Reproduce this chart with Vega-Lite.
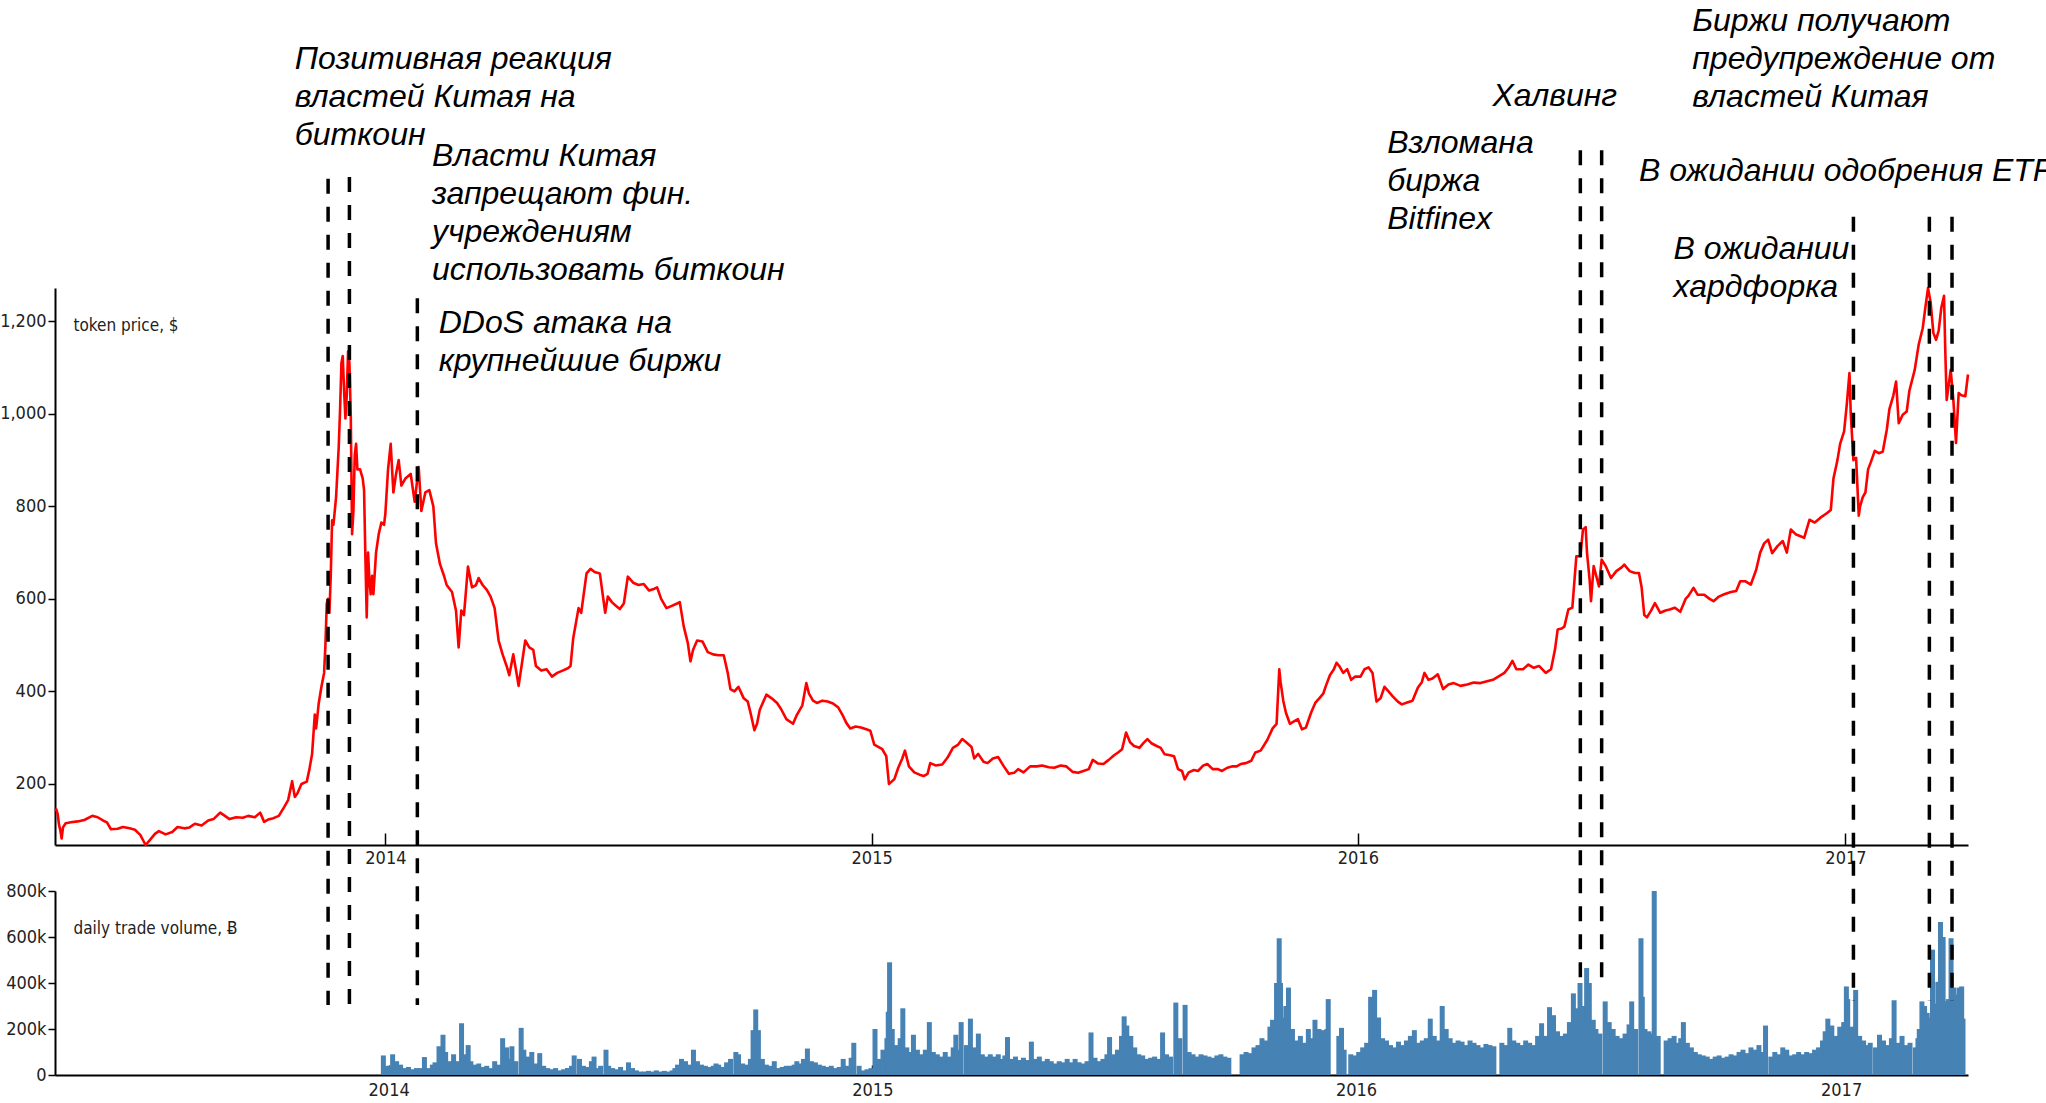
{
  "$schema": "https://vega.github.io/schema/vega-lite/v6.json",
  "autosize": "none",
  "width": 1913,
  "height": 1103,
  "padding": {"left": 55, "top": 0, "right": 78, "bottom": 0},
  "background": "white",
  "config": {
    "view": {"stroke": null},
    "axis": {
      "labelFont": "Liberation Sans Narrow, DejaVu Sans Condensed, Liberation Sans, sans-serif",
      "labelColor": "#222222",
      "labelFontSize": 18,
      "titleFont": "Liberation Sans Narrow, DejaVu Sans Condensed, Liberation Sans, sans-serif",
      "titleColor": "#222222",
      "titleFontSize": 17,
      "titleFontWeight": "normal",
      "domainColor": "black",
      "domainWidth": 2,
      "tickColor": "black",
      "tickWidth": 1.5,
      "grid": false
    }
  },
  "datasets": {
    "price": [
      {"d":"2013-04-28","p":142},{"d":"2013-04-29","p":145},{"d":"2013-04-30","p":135},{"d":"2013-05-01","p":112},{"d":"2013-05-02","p":100},{"d":"2013-05-03","p":82},{"d":"2013-05-04","p":106},{"d":"2013-05-06","p":115},{"d":"2013-05-10","p":117},{"d":"2013-05-15","p":119},{"d":"2013-05-20","p":122},{"d":"2013-05-26","p":131},{"d":"2013-05-30","p":128},
      {"d":"2013-06-03","p":121},{"d":"2013-06-06","p":117},{"d":"2013-06-09","p":102},{"d":"2013-06-14","p":103},{"d":"2013-06-18","p":107},{"d":"2013-06-23","p":104},{"d":"2013-06-27","p":101},
      {"d":"2013-07-01","p":90},{"d":"2013-07-05","p":68},{"d":"2013-07-08","p":78},{"d":"2013-07-12","p":92},{"d":"2013-07-15","p":98},{"d":"2013-07-20","p":91},{"d":"2013-07-25","p":96},{"d":"2013-07-29","p":107},
      {"d":"2013-08-03","p":104},{"d":"2013-08-07","p":106},{"d":"2013-08-11","p":114},{"d":"2013-08-16","p":110},{"d":"2013-08-21","p":121},{"d":"2013-08-25","p":124},{"d":"2013-08-30","p":138},
      {"d":"2013-09-02","p":132},{"d":"2013-09-06","p":124},{"d":"2013-09-11","p":128},{"d":"2013-09-16","p":127},{"d":"2013-09-20","p":131},{"d":"2013-09-25","p":128},{"d":"2013-09-29","p":138},
      {"d":"2013-10-02","p":118},{"d":"2013-10-05","p":123},{"d":"2013-10-09","p":126},{"d":"2013-10-13","p":131},{"d":"2013-10-17","p":150},{"d":"2013-10-20","p":165},{"d":"2013-10-23","p":206},{"d":"2013-10-25","p":172},{"d":"2013-10-27","p":180},{"d":"2013-10-30","p":200},
      {"d":"2013-11-03","p":205},{"d":"2013-11-05","p":232},{"d":"2013-11-07","p":265},{"d":"2013-11-09","p":350},{"d":"2013-11-10","p":320},{"d":"2013-11-12","p":375},{"d":"2013-11-14","p":410},{"d":"2013-11-16","p":440},{"d":"2013-11-17","p":500},{"d":"2013-11-18","p":590},{"d":"2013-11-19","p":600},{"d":"2013-11-20","p":570},{"d":"2013-11-21","p":650},{"d":"2013-11-22","p":770},{"d":"2013-11-23","p":760},{"d":"2013-11-25","p":820},{"d":"2013-11-27","p":930},{"d":"2013-11-28","p":1010},{"d":"2013-11-29","p":1110},{"d":"2013-11-30","p":1125},
      {"d":"2013-12-01","p":1050},{"d":"2013-12-02","p":990},{"d":"2013-12-03","p":1040},{"d":"2013-12-04","p":1135},{"d":"2013-12-05","p":1110},{"d":"2013-12-06","p":1000},{"d":"2013-12-07","p":740},{"d":"2013-12-08","p":790},{"d":"2013-12-09","p":910},{"d":"2013-12-10","p":935},{"d":"2013-12-11","p":880},{"d":"2013-12-13","p":880},{"d":"2013-12-15","p":860},{"d":"2013-12-16","p":835},{"d":"2013-12-17","p":690},{"d":"2013-12-18","p":560},{"d":"2013-12-19","p":700},{"d":"2013-12-20","p":640},{"d":"2013-12-21","p":610},{"d":"2013-12-22","p":650},{"d":"2013-12-23","p":610},{"d":"2013-12-25","p":700},{"d":"2013-12-27","p":740},{"d":"2013-12-29","p":765},{"d":"2013-12-31","p":760},
      {"d":"2014-01-01","p":785},{"d":"2014-01-03","p":880},{"d":"2014-01-05","p":935},{"d":"2014-01-07","p":830},{"d":"2014-01-09","p":870},{"d":"2014-01-11","p":900},{"d":"2014-01-13","p":845},{"d":"2014-01-16","p":860},{"d":"2014-01-20","p":870},{"d":"2014-01-23","p":810},{"d":"2014-01-26","p":885},{"d":"2014-01-28","p":790},{"d":"2014-01-31","p":830},
      {"d":"2014-02-03","p":835},{"d":"2014-02-06","p":800},{"d":"2014-02-08","p":720},{"d":"2014-02-11","p":675},{"d":"2014-02-14","p":650},{"d":"2014-02-16","p":630},{"d":"2014-02-20","p":615},{"d":"2014-02-23","p":575},{"d":"2014-02-25","p":495},{"d":"2014-02-27","p":575},
      {"d":"2014-03-01","p":565},{"d":"2014-03-04","p":670},{"d":"2014-03-07","p":625},{"d":"2014-03-10","p":630},{"d":"2014-03-12","p":645},{"d":"2014-03-15","p":630},{"d":"2014-03-18","p":620},{"d":"2014-03-21","p":605},{"d":"2014-03-24","p":580},{"d":"2014-03-27","p":510},{"d":"2014-03-30","p":480},
      {"d":"2014-04-02","p":455},{"d":"2014-04-04","p":435},{"d":"2014-04-07","p":480},{"d":"2014-04-10","p":430},{"d":"2014-04-11","p":412},{"d":"2014-04-14","p":470},{"d":"2014-04-16","p":510},{"d":"2014-04-19","p":495},{"d":"2014-04-22","p":490},{"d":"2014-04-24","p":455},{"d":"2014-04-28","p":445},
      {"d":"2014-05-02","p":448},{"d":"2014-05-06","p":432},{"d":"2014-05-10","p":440},{"d":"2014-05-14","p":445},{"d":"2014-05-18","p":450},{"d":"2014-05-20","p":455},{"d":"2014-05-22","p":515},{"d":"2014-05-26","p":580},{"d":"2014-05-28","p":570},
      {"d":"2014-06-01","p":655},{"d":"2014-06-04","p":665},{"d":"2014-06-07","p":658},{"d":"2014-06-11","p":655},{"d":"2014-06-15","p":570},{"d":"2014-06-17","p":605},{"d":"2014-06-20","p":593},{"d":"2014-06-23","p":585},{"d":"2014-06-26","p":578},{"d":"2014-06-29","p":590},
      {"d":"2014-07-02","p":648},{"d":"2014-07-06","p":635},{"d":"2014-07-10","p":630},{"d":"2014-07-14","p":632},{"d":"2014-07-18","p":618},{"d":"2014-07-22","p":622},{"d":"2014-07-24","p":625},{"d":"2014-07-27","p":600},{"d":"2014-07-31","p":580},
      {"d":"2014-08-04","p":585},{"d":"2014-08-08","p":590},{"d":"2014-08-10","p":593},{"d":"2014-08-13","p":540},{"d":"2014-08-16","p":505},{"d":"2014-08-18","p":465},{"d":"2014-08-20","p":490},{"d":"2014-08-23","p":510},{"d":"2014-08-27","p":508},{"d":"2014-08-31","p":485},
      {"d":"2014-09-04","p":480},{"d":"2014-09-08","p":478},{"d":"2014-09-12","p":478},{"d":"2014-09-15","p":440},{"d":"2014-09-17","p":405},{"d":"2014-09-20","p":400},{"d":"2014-09-23","p":410},{"d":"2014-09-27","p":385},{"d":"2014-09-30","p":378},
      {"d":"2014-10-02","p":355},{"d":"2014-10-05","p":316},{"d":"2014-10-07","p":330},{"d":"2014-10-09","p":360},{"d":"2014-10-14","p":393},{"d":"2014-10-18","p":385},{"d":"2014-10-22","p":375},{"d":"2014-10-25","p":362},{"d":"2014-10-29","p":340},
      {"d":"2014-11-03","p":330},{"d":"2014-11-06","p":350},{"d":"2014-11-10","p":370},{"d":"2014-11-13","p":418},{"d":"2014-11-15","p":395},{"d":"2014-11-18","p":380},{"d":"2014-11-21","p":375},{"d":"2014-11-25","p":380},{"d":"2014-11-29","p":378},
      {"d":"2014-12-03","p":374},{"d":"2014-12-07","p":365},{"d":"2014-12-10","p":350},{"d":"2014-12-13","p":332},{"d":"2014-12-16","p":320},{"d":"2014-12-20","p":324},{"d":"2014-12-24","p":322},{"d":"2014-12-28","p":318},{"d":"2014-12-31","p":315},
      {"d":"2015-01-03","p":285},{"d":"2015-01-06","p":280},{"d":"2015-01-09","p":275},{"d":"2015-01-12","p":260},{"d":"2015-01-14","p":200},{"d":"2015-01-16","p":205},{"d":"2015-01-18","p":210},{"d":"2015-01-21","p":235},{"d":"2015-01-24","p":255},{"d":"2015-01-26","p":272},{"d":"2015-01-29","p":238},
      {"d":"2015-02-02","p":225},{"d":"2015-02-06","p":220},{"d":"2015-02-09","p":217},{"d":"2015-02-12","p":222},{"d":"2015-02-14","p":245},{"d":"2015-02-18","p":240},{"d":"2015-02-23","p":242},{"d":"2015-02-27","p":257},
      {"d":"2015-03-03","p":278},{"d":"2015-03-07","p":285},{"d":"2015-03-10","p":297},{"d":"2015-03-13","p":290},{"d":"2015-03-17","p":280},{"d":"2015-03-19","p":255},{"d":"2015-03-22","p":265},{"d":"2015-03-26","p":248},{"d":"2015-03-29","p":245},
      {"d":"2015-04-02","p":255},{"d":"2015-04-06","p":258},{"d":"2015-04-10","p":239},{"d":"2015-04-14","p":222},{"d":"2015-04-18","p":224},{"d":"2015-04-21","p":232},{"d":"2015-04-25","p":225},{"d":"2015-04-30","p":238},
      {"d":"2015-05-05","p":238},{"d":"2015-05-09","p":240},{"d":"2015-05-14","p":236},{"d":"2015-05-18","p":235},{"d":"2015-05-23","p":240},{"d":"2015-05-27","p":238},
      {"d":"2015-06-01","p":226},{"d":"2015-06-05","p":224},{"d":"2015-06-09","p":228},{"d":"2015-06-13","p":232},{"d":"2015-06-16","p":252},{"d":"2015-06-20","p":244},{"d":"2015-06-24","p":243},{"d":"2015-06-28","p":252},
      {"d":"2015-07-02","p":262},{"d":"2015-07-05","p":268},{"d":"2015-07-08","p":275},{"d":"2015-07-11","p":311},{"d":"2015-07-14","p":290},{"d":"2015-07-17","p":282},{"d":"2015-07-21","p":278},{"d":"2015-07-24","p":288},{"d":"2015-07-27","p":297},{"d":"2015-07-30","p":288},
      {"d":"2015-08-03","p":282},{"d":"2015-08-06","p":278},{"d":"2015-08-09","p":264},{"d":"2015-08-13","p":262},{"d":"2015-08-16","p":260},{"d":"2015-08-19","p":232},{"d":"2015-08-22","p":228},{"d":"2015-08-24","p":210},{"d":"2015-08-27","p":225},{"d":"2015-08-31","p":230},
      {"d":"2015-09-03","p":228},{"d":"2015-09-07","p":240},{"d":"2015-09-10","p":243},{"d":"2015-09-14","p":232},{"d":"2015-09-18","p":232},{"d":"2015-09-21","p":228},{"d":"2015-09-25","p":235},{"d":"2015-09-29","p":238},
      {"d":"2015-10-02","p":238},{"d":"2015-10-05","p":243},{"d":"2015-10-09","p":245},{"d":"2015-10-13","p":250},{"d":"2015-10-16","p":268},{"d":"2015-10-20","p":272},{"d":"2015-10-25","p":295},{"d":"2015-10-29","p":320},
      {"d":"2015-11-01","p":330},{"d":"2015-11-03","p":448},{"d":"2015-11-04","p":420},{"d":"2015-11-06","p":380},{"d":"2015-11-08","p":354},{"d":"2015-11-11","p":330},{"d":"2015-11-14","p":335},{"d":"2015-11-17","p":340},{"d":"2015-11-20","p":318},{"d":"2015-11-23","p":322},{"d":"2015-11-27","p":355},{"d":"2015-11-30","p":375},
      {"d":"2015-12-03","p":385},{"d":"2015-12-06","p":395},{"d":"2015-12-08","p":412},{"d":"2015-12-11","p":435},{"d":"2015-12-14","p":448},{"d":"2015-12-16","p":462},{"d":"2015-12-18","p":455},{"d":"2015-12-21","p":440},{"d":"2015-12-24","p":448},{"d":"2015-12-27","p":425},{"d":"2015-12-30","p":432},
      {"d":"2016-01-03","p":432},{"d":"2016-01-06","p":448},{"d":"2016-01-09","p":452},{"d":"2016-01-12","p":440},{"d":"2016-01-15","p":378},{"d":"2016-01-18","p":385},{"d":"2016-01-21","p":410},{"d":"2016-01-24","p":400},{"d":"2016-01-27","p":390},{"d":"2016-01-31","p":378},
      {"d":"2016-02-03","p":372},{"d":"2016-02-07","p":376},{"d":"2016-02-11","p":380},{"d":"2016-02-15","p":408},{"d":"2016-02-18","p":420},{"d":"2016-02-20","p":440},{"d":"2016-02-23","p":425},{"d":"2016-02-26","p":428},
      {"d":"2016-03-01","p":437},{"d":"2016-03-05","p":405},{"d":"2016-03-09","p":415},{"d":"2016-03-13","p":418},{"d":"2016-03-18","p":412},{"d":"2016-03-23","p":415},{"d":"2016-03-28","p":419},
      {"d":"2016-04-02","p":418},{"d":"2016-04-07","p":422},{"d":"2016-04-12","p":426},{"d":"2016-04-16","p":433},{"d":"2016-04-20","p":440},{"d":"2016-04-23","p":451},{"d":"2016-04-26","p":466},{"d":"2016-04-29","p":448},
      {"d":"2016-05-04","p":448},{"d":"2016-05-08","p":458},{"d":"2016-05-12","p":451},{"d":"2016-05-16","p":455},{"d":"2016-05-21","p":440},{"d":"2016-05-25","p":448},{"d":"2016-05-28","p":491},{"d":"2016-05-30","p":534},
      {"d":"2016-06-02","p":536},{"d":"2016-06-04","p":540},{"d":"2016-06-07","p":577},{"d":"2016-06-10","p":581},{"d":"2016-06-13","p":692},{"d":"2016-06-16","p":692},{"d":"2016-06-18","p":750},{"d":"2016-06-20","p":755},{"d":"2016-06-21","p":700},{"d":"2016-06-23","p":640},{"d":"2016-06-24","p":595},{"d":"2016-06-26","p":671},{"d":"2016-06-28","p":649},{"d":"2016-06-30","p":627},
      {"d":"2016-07-02","p":685},{"d":"2016-07-05","p":671},{"d":"2016-07-09","p":645},{"d":"2016-07-13","p":660},{"d":"2016-07-17","p":668},{"d":"2016-07-19","p":674},{"d":"2016-07-23","p":660},{"d":"2016-07-27","p":656},{"d":"2016-07-30","p":656},
      {"d":"2016-08-01","p":625},{"d":"2016-08-03","p":565},{"d":"2016-08-05","p":560},{"d":"2016-08-08","p":574},{"d":"2016-08-11","p":591},{"d":"2016-08-15","p":570},{"d":"2016-08-19","p":575},{"d":"2016-08-22","p":577},{"d":"2016-08-26","p":581},{"d":"2016-08-30","p":572},
      {"d":"2016-09-03","p":600},{"d":"2016-09-05","p":606},{"d":"2016-09-09","p":624},{"d":"2016-09-12","p":609},{"d":"2016-09-17","p":609},{"d":"2016-09-21","p":600},{"d":"2016-09-24","p":595},{"d":"2016-09-28","p":605},
      {"d":"2016-10-02","p":610},{"d":"2016-10-07","p":615},{"d":"2016-10-11","p":617},{"d":"2016-10-14","p":638},{"d":"2016-10-18","p":638},{"d":"2016-10-22","p":631},{"d":"2016-10-26","p":663},{"d":"2016-10-29","p":700},
      {"d":"2016-11-01","p":720},{"d":"2016-11-04","p":728},{"d":"2016-11-07","p":699},{"d":"2016-11-11","p":714},{"d":"2016-11-15","p":725},{"d":"2016-11-18","p":700},{"d":"2016-11-21","p":750},{"d":"2016-11-25","p":739},
      {"d":"2016-12-01","p":732},{"d":"2016-12-05","p":771},{"d":"2016-12-09","p":765},{"d":"2016-12-13","p":775},{"d":"2016-12-18","p":785},{"d":"2016-12-21","p":792},{"d":"2016-12-23","p":860},{"d":"2016-12-26","p":900},{"d":"2016-12-28","p":935},{"d":"2016-12-31","p":962},
      {"d":"2017-01-02","p":1020},{"d":"2017-01-04","p":1088},{"d":"2017-01-05","p":1000},{"d":"2017-01-07","p":900},{"d":"2017-01-09","p":905},{"d":"2017-01-11","p":780},{"d":"2017-01-12","p":800},{"d":"2017-01-14","p":820},{"d":"2017-01-16","p":830},{"d":"2017-01-18","p":880},{"d":"2017-01-20","p":895},{"d":"2017-01-23","p":920},{"d":"2017-01-26","p":915},{"d":"2017-01-29","p":918},
      {"d":"2017-02-01","p":965},{"d":"2017-02-03","p":1010},{"d":"2017-02-06","p":1040},{"d":"2017-02-08","p":1070},{"d":"2017-02-10","p":980},{"d":"2017-02-13","p":998},{"d":"2017-02-16","p":1005},{"d":"2017-02-18","p":1050},{"d":"2017-02-22","p":1095},{"d":"2017-02-25","p":1150},{"d":"2017-02-28","p":1185},
      {"d":"2017-03-02","p":1230},{"d":"2017-03-04","p":1272},{"d":"2017-03-06","p":1240},{"d":"2017-03-08","p":1175},{"d":"2017-03-10","p":1160},{"d":"2017-03-12","p":1180},{"d":"2017-03-14","p":1230},{"d":"2017-03-16","p":1255},{"d":"2017-03-17","p":1130},{"d":"2017-03-18","p":1030},{"d":"2017-03-21","p":1095},{"d":"2017-03-23","p":1030},{"d":"2017-03-25","p":937},{"d":"2017-03-27","p":1045},{"d":"2017-03-29","p":1040},
      {"d":"2017-04-01","p":1038},{"d":"2017-04-03","p":1085}
    ],
    "volume": [
      {"d":"2013-12-28","v":85},{"d":"2013-12-31","v":40},
      {"d":"2014-01-01","v":35},{"d":"2014-01-04","v":90},{"d":"2014-01-07","v":60},{"d":"2014-01-10","v":45},{"d":"2014-01-13","v":30},{"d":"2014-01-16","v":35},{"d":"2014-01-19","v":25},{"d":"2014-01-22","v":30},{"d":"2014-01-25","v":30},{"d":"2014-01-28","v":78},{"d":"2014-01-31","v":30},
      {"d":"2014-02-03","v":45},{"d":"2014-02-05","v":55},{"d":"2014-02-08","v":125},{"d":"2014-02-11","v":175},{"d":"2014-02-13","v":100},{"d":"2014-02-16","v":60},{"d":"2014-02-19","v":90},{"d":"2014-02-22","v":60},{"d":"2014-02-25","v":225},{"d":"2014-02-28","v":90},
      {"d":"2014-03-02","v":130},{"d":"2014-03-04","v":60},{"d":"2014-03-07","v":45},{"d":"2014-03-10","v":50},{"d":"2014-03-13","v":35},{"d":"2014-03-16","v":40},{"d":"2014-03-19","v":30},{"d":"2014-03-22","v":60},{"d":"2014-03-25","v":45},{"d":"2014-03-28","v":160},{"d":"2014-03-31","v":120},
      {"d":"2014-04-02","v":70},{"d":"2014-04-04","v":125},{"d":"2014-04-07","v":60},{"d":"2014-04-11","v":205},{"d":"2014-04-13","v":110},{"d":"2014-04-16","v":80},{"d":"2014-04-19","v":100},{"d":"2014-04-22","v":50},{"d":"2014-04-25","v":95},{"d":"2014-04-28","v":40},
      {"d":"2014-05-01","v":30},{"d":"2014-05-04","v":25},{"d":"2014-05-07","v":30},{"d":"2014-05-10","v":20},{"d":"2014-05-13","v":25},{"d":"2014-05-16","v":30},{"d":"2014-05-19","v":40},{"d":"2014-05-21","v":85},{"d":"2014-05-25","v":70},{"d":"2014-05-28","v":40},{"d":"2014-05-31","v":35},
      {"d":"2014-06-03","v":60},{"d":"2014-06-05","v":80},{"d":"2014-06-07","v":30},{"d":"2014-06-10","v":40},{"d":"2014-06-14","v":110},{"d":"2014-06-16","v":40},{"d":"2014-06-19","v":30},{"d":"2014-06-22","v":25},{"d":"2014-06-25","v":35},{"d":"2014-06-28","v":20},
      {"d":"2014-07-01","v":55},{"d":"2014-07-04","v":30},{"d":"2014-07-07","v":20},{"d":"2014-07-10","v":15},{"d":"2014-07-13","v":15},{"d":"2014-07-16","v":18},{"d":"2014-07-19","v":15},{"d":"2014-07-22","v":20},{"d":"2014-07-25","v":15},{"d":"2014-07-28","v":18},{"d":"2014-07-31","v":15},
      {"d":"2014-08-03","v":20},{"d":"2014-08-05","v":30},{"d":"2014-08-07","v":45},{"d":"2014-08-10","v":70},{"d":"2014-08-13","v":60},{"d":"2014-08-16","v":45},{"d":"2014-08-19","v":110},{"d":"2014-08-22","v":60},{"d":"2014-08-25","v":45},{"d":"2014-08-28","v":40},{"d":"2014-08-31","v":35},
      {"d":"2014-09-03","v":40},{"d":"2014-09-05","v":50},{"d":"2014-09-07","v":45},{"d":"2014-09-10","v":35},{"d":"2014-09-13","v":55},{"d":"2014-09-16","v":70},{"d":"2014-09-20","v":100},{"d":"2014-09-22","v":90},{"d":"2014-09-25","v":50},{"d":"2014-09-28","v":45},
      {"d":"2014-10-01","v":70},{"d":"2014-10-03","v":195},{"d":"2014-10-05","v":285},{"d":"2014-10-07","v":195},{"d":"2014-10-10","v":70},{"d":"2014-10-13","v":45},{"d":"2014-10-16","v":40},{"d":"2014-10-19","v":60},{"d":"2014-10-22","v":30},{"d":"2014-10-25","v":35},{"d":"2014-10-28","v":40},{"d":"2014-10-31","v":40},
      {"d":"2014-11-03","v":45},{"d":"2014-11-05","v":60},{"d":"2014-11-07","v":50},{"d":"2014-11-10","v":70},{"d":"2014-11-13","v":115},{"d":"2014-11-16","v":60},{"d":"2014-11-19","v":55},{"d":"2014-11-22","v":45},{"d":"2014-11-25","v":40},{"d":"2014-11-28","v":35},
      {"d":"2014-12-01","v":40},{"d":"2014-12-04","v":30},{"d":"2014-12-07","v":35},{"d":"2014-12-10","v":70},{"d":"2014-12-13","v":40},{"d":"2014-12-16","v":75},{"d":"2014-12-18","v":140},{"d":"2014-12-22","v":40},{"d":"2014-12-25","v":20},{"d":"2014-12-28","v":25},{"d":"2014-12-31","v":30},
      {"d":"2015-01-03","v":200},{"d":"2015-01-06","v":70},{"d":"2015-01-09","v":110},{"d":"2015-01-12","v":160},{"d":"2015-01-13","v":275},{"d":"2015-01-14","v":490},{"d":"2015-01-16","v":200},{"d":"2015-01-19","v":130},{"d":"2015-01-22","v":160},{"d":"2015-01-24","v":290},{"d":"2015-01-27","v":120},{"d":"2015-01-30","v":100},
      {"d":"2015-02-01","v":175},{"d":"2015-02-04","v":110},{"d":"2015-02-07","v":90},{"d":"2015-02-10","v":110},{"d":"2015-02-13","v":230},{"d":"2015-02-16","v":100},{"d":"2015-02-19","v":90},{"d":"2015-02-22","v":80},{"d":"2015-02-25","v":100},{"d":"2015-02-28","v":80},
      {"d":"2015-03-03","v":120},{"d":"2015-03-05","v":175},{"d":"2015-03-07","v":110},{"d":"2015-03-09","v":230},{"d":"2015-03-13","v":130},{"d":"2015-03-16","v":245},{"d":"2015-03-19","v":120},{"d":"2015-03-22","v":180},{"d":"2015-03-25","v":90},{"d":"2015-03-28","v":80},{"d":"2015-03-31","v":90},
      {"d":"2015-04-03","v":80},{"d":"2015-04-06","v":90},{"d":"2015-04-09","v":70},{"d":"2015-04-11","v":85},{"d":"2015-04-13","v":165},{"d":"2015-04-16","v":70},{"d":"2015-04-19","v":80},{"d":"2015-04-22","v":65},{"d":"2015-04-25","v":75},{"d":"2015-04-28","v":65},
      {"d":"2015-05-01","v":145},{"d":"2015-05-04","v":70},{"d":"2015-05-07","v":80},{"d":"2015-05-10","v":60},{"d":"2015-05-13","v":70},{"d":"2015-05-16","v":60},{"d":"2015-05-19","v":50},{"d":"2015-05-22","v":60},{"d":"2015-05-25","v":55},{"d":"2015-05-28","v":70},{"d":"2015-05-31","v":55},
      {"d":"2015-06-03","v":70},{"d":"2015-06-06","v":55},{"d":"2015-06-09","v":50},{"d":"2015-06-12","v":60},{"d":"2015-06-15","v":185},{"d":"2015-06-18","v":75},{"d":"2015-06-21","v":60},{"d":"2015-06-24","v":70},{"d":"2015-06-27","v":90},{"d":"2015-06-29","v":165},
      {"d":"2015-07-02","v":90},{"d":"2015-07-05","v":110},{"d":"2015-07-08","v":170},{"d":"2015-07-10","v":255},{"d":"2015-07-12","v":215},{"d":"2015-07-15","v":170},{"d":"2015-07-18","v":120},{"d":"2015-07-21","v":90},{"d":"2015-07-24","v":85},{"d":"2015-07-27","v":70},{"d":"2015-07-30","v":75},
      {"d":"2015-08-02","v":80},{"d":"2015-08-05","v":70},{"d":"2015-08-08","v":185},{"d":"2015-08-11","v":90},{"d":"2015-08-14","v":80},{"d":"2015-08-18","v":315},{"d":"2015-08-21","v":160},{"d":"2015-08-25","v":305},{"d":"2015-08-28","v":100},{"d":"2015-08-31","v":90},
      {"d":"2015-09-03","v":80},{"d":"2015-09-06","v":90},{"d":"2015-09-09","v":85},{"d":"2015-09-12","v":80},{"d":"2015-09-15","v":75},{"d":"2015-09-18","v":85},{"d":"2015-09-21","v":90},{"d":"2015-09-24","v":80},{"d":"2015-09-27","v":75},
      {"d":"2015-10-07","v":90},{"d":"2015-10-10","v":100},{"d":"2015-10-13","v":95},{"d":"2015-10-16","v":120},{"d":"2015-10-19","v":130},{"d":"2015-10-22","v":160},{"d":"2015-10-25","v":150},{"d":"2015-10-28","v":210},{"d":"2015-10-30","v":240},
      {"d":"2015-11-02","v":400},{"d":"2015-11-04","v":595},{"d":"2015-11-05","v":400},{"d":"2015-11-07","v":250},{"d":"2015-11-09","v":300},{"d":"2015-11-11","v":380},{"d":"2015-11-14","v":200},{"d":"2015-11-17","v":150},{"d":"2015-11-20","v":170},{"d":"2015-11-23","v":140},{"d":"2015-11-26","v":200},{"d":"2015-11-29","v":160},
      {"d":"2015-12-01","v":240},{"d":"2015-12-04","v":200},{"d":"2015-12-07","v":195},{"d":"2015-12-10","v":200},{"d":"2015-12-11","v":330},{"d":"2015-12-19","v":170},{"d":"2015-12-21","v":205},{"d":"2015-12-23","v":110},{"d":"2015-12-28","v":90},{"d":"2015-12-31","v":85},
      {"d":"2016-01-03","v":100},{"d":"2016-01-06","v":120},{"d":"2016-01-09","v":140},{"d":"2016-01-12","v":340},{"d":"2016-01-15","v":370},{"d":"2016-01-18","v":250},{"d":"2016-01-21","v":160},{"d":"2016-01-24","v":150},{"d":"2016-01-27","v":130},{"d":"2016-01-30","v":120},
      {"d":"2016-02-02","v":145},{"d":"2016-02-05","v":130},{"d":"2016-02-08","v":150},{"d":"2016-02-11","v":170},{"d":"2016-02-14","v":195},{"d":"2016-02-17","v":140},{"d":"2016-02-20","v":150},{"d":"2016-02-23","v":160},{"d":"2016-02-26","v":245},{"d":"2016-02-29","v":170},
      {"d":"2016-03-03","v":150},{"d":"2016-03-06","v":300},{"d":"2016-03-09","v":200},{"d":"2016-03-12","v":160},{"d":"2016-03-15","v":140},{"d":"2016-03-18","v":150},{"d":"2016-03-21","v":145},{"d":"2016-03-24","v":130},{"d":"2016-03-27","v":150},{"d":"2016-03-30","v":140},
      {"d":"2016-04-02","v":130},{"d":"2016-04-05","v":120},{"d":"2016-04-08","v":135},{"d":"2016-04-11","v":130},{"d":"2016-04-14","v":125},{"d":"2016-04-20","v":140},{"d":"2016-04-23","v":130},{"d":"2016-04-26","v":205},{"d":"2016-04-29","v":150},
      {"d":"2016-05-02","v":140},{"d":"2016-05-05","v":130},{"d":"2016-05-08","v":150},{"d":"2016-05-11","v":140},{"d":"2016-05-14","v":130},{"d":"2016-05-17","v":170},{"d":"2016-05-20","v":225},{"d":"2016-05-23","v":170},{"d":"2016-05-26","v":295},{"d":"2016-05-29","v":260},
      {"d":"2016-06-01","v":190},{"d":"2016-06-04","v":170},{"d":"2016-06-07","v":180},{"d":"2016-06-10","v":230},{"d":"2016-06-13","v":355},{"d":"2016-06-16","v":290},{"d":"2016-06-18","v":400},{"d":"2016-06-21","v":300},{"d":"2016-06-23","v":465},{"d":"2016-06-25","v":400},{"d":"2016-06-28","v":240},{"d":"2016-06-30","v":200},
      {"d":"2016-07-03","v":180},{"d":"2016-07-07","v":320},{"d":"2016-07-10","v":230},{"d":"2016-07-13","v":200},{"d":"2016-07-16","v":170},{"d":"2016-07-19","v":160},{"d":"2016-07-22","v":180},{"d":"2016-07-25","v":220},{"d":"2016-07-27","v":320},{"d":"2016-07-30","v":200},
      {"d":"2016-08-03","v":595},{"d":"2016-08-04","v":340},{"d":"2016-08-06","v":200},{"d":"2016-08-09","v":190},{"d":"2016-08-12","v":180},{"d":"2016-08-13","v":800},{"d":"2016-08-16","v":170},{"d":"2016-08-22","v":150},{"d":"2016-08-25","v":160},{"d":"2016-08-28","v":170},{"d":"2016-08-31","v":140},
      {"d":"2016-09-02","v":160},{"d":"2016-09-04","v":230},{"d":"2016-09-07","v":140},{"d":"2016-09-10","v":120},{"d":"2016-09-13","v":100},{"d":"2016-09-16","v":90},{"d":"2016-09-19","v":85},{"d":"2016-09-22","v":80},{"d":"2016-09-25","v":70},{"d":"2016-09-28","v":80},
      {"d":"2016-10-01","v":85},{"d":"2016-10-04","v":75},{"d":"2016-10-07","v":80},{"d":"2016-10-10","v":90},{"d":"2016-10-13","v":85},{"d":"2016-10-16","v":100},{"d":"2016-10-19","v":110},{"d":"2016-10-22","v":95},{"d":"2016-10-25","v":120},{"d":"2016-10-28","v":110},{"d":"2016-10-31","v":130},
      {"d":"2016-11-03","v":100},{"d":"2016-11-05","v":215},{"d":"2016-11-09","v":80},{"d":"2016-11-12","v":100},{"d":"2016-11-15","v":90},{"d":"2016-11-18","v":120},{"d":"2016-11-21","v":110},{"d":"2016-11-24","v":85},{"d":"2016-11-27","v":90},{"d":"2016-11-30","v":100},
      {"d":"2016-12-03","v":90},{"d":"2016-12-06","v":100},{"d":"2016-12-09","v":95},{"d":"2016-12-12","v":110},{"d":"2016-12-15","v":120},{"d":"2016-12-18","v":150},{"d":"2016-12-20","v":190},{"d":"2016-12-22","v":245},{"d":"2016-12-25","v":215},{"d":"2016-12-28","v":170},{"d":"2016-12-31","v":210},
      {"d":"2017-01-03","v":230},{"d":"2017-01-05","v":385},{"d":"2017-01-06","v":330},{"d":"2017-01-09","v":210},{"d":"2017-01-12","v":370},{"d":"2017-01-15","v":170},{"d":"2017-01-18","v":150},{"d":"2017-01-21","v":130},{"d":"2017-01-23","v":140},{"d":"2017-01-27","v":120},{"d":"2017-01-30","v":175},
      {"d":"2017-02-02","v":150},{"d":"2017-02-05","v":130},{"d":"2017-02-08","v":160},{"d":"2017-02-10","v":325},{"d":"2017-02-13","v":140},{"d":"2017-02-16","v":170},{"d":"2017-02-19","v":130},{"d":"2017-02-22","v":140},{"d":"2017-02-26","v":120},{"d":"2017-02-28","v":160},
      {"d":"2017-03-01","v":200},{"d":"2017-03-03","v":320},{"d":"2017-03-05","v":300},{"d":"2017-03-07","v":270},{"d":"2017-03-09","v":250},{"d":"2017-03-11","v":545},{"d":"2017-03-13","v":310},{"d":"2017-03-15","v":405},{"d":"2017-03-17","v":665},{"d":"2017-03-19","v":600},{"d":"2017-03-21","v":320},{"d":"2017-03-23","v":330},{"d":"2017-03-25","v":595},{"d":"2017-03-27","v":380},{"d":"2017-03-29","v":350},{"d":"2017-03-31","v":380},
      {"d":"2017-04-02","v":385},{"d":"2017-04-03","v":245}
    ],
    "events": [
      {"d":"2013-11-19","top":1508,"bottom":-278},
      {"d":"2013-12-05","top":1512,"bottom":-278},
      {"d":"2014-01-25","top":1250,"bottom":-278},
      {"d":"2016-06-16","top":1570,"bottom":-220},
      {"d":"2016-07-02","top":1570,"bottom":-220},
      {"d":"2017-01-07","top":1426,"bottom":-269},
      {"d":"2017-03-05","top":1426,"bottom":-269},
      {"d":"2017-03-22","top":1426,"bottom":-269}
    ],
    "notes": [
      {"d":"2013-10-25","p":1745,"t":["Позитивная реакция","властей Китая на","биткоин"]},
      {"d":"2014-02-05","p":1536,"t":["Власти Китая","запрещают фин.","учреждениям","использовать биткоин"]},
      {"d":"2014-02-10","p":1175,"t":["DDoS атака на","крупнейшие биржи"]},
      {"d":"2016-04-11","p":1665,"t":["Халвинг"]},
      {"d":"2016-01-23","p":1564,"t":["Взломана","биржа","Bitfinex"]},
      {"d":"2016-09-08","p":1828,"t":["Биржи получают","предупреждение от","властей Китая"]},
      {"d":"2016-07-30","p":1503,"t":["В ожидании одобрения ETF"]},
      {"d":"2016-08-25","p":1335,"t":["В ожидании","хардфорка"]}
    ]
  },
  "layer": [
    {
      "data": {"name": "volume"},
      "mark": {"type": "bar", "color": "#4682b4", "continuousBandSize": 4.5},
      "encoding": {
        "x": {
          "field": "d", "type": "temporal",
          "scale": {"domain": [{"year": 2013, "month": 4, "date": 28, "utc": true}, {"year": 2017, "month": 4, "date": 3, "utc": true}], "nice": false},
          "axis": {
            "orient": "bottom", "offset": -28, "title": null, "format": "%Y",
            "values": [{"year": 2014, "month": 1, "date": 1, "utc": true}, {"year": 2015, "month": 1, "date": 1, "utc": true}, {"year": 2016, "month": 1, "date": 1, "utc": true}, {"year": 2017, "month": 1, "date": 1, "utc": true}],
            "tickSize": -10, "labelPadding": 16, "labelFontSize": 18, "labelAlign": "center"
          }
        },
        "y": {
          "field": "v", "type": "quantitative",
          "scale": {"domain": [0, 800], "range": [1075, 891], "nice": false},
          "axis": {
            "orient": "left", "values": [0, 200, 400, 600, 800],
            "labelExpr": "datum.value == 0 ? '0' : datum.value + 'k'",
            "tickSize": 7, "labelPadding": 2,
            "title": "daily trade volume, Ƀ", "titleAngle": 0, "titleAlign": "left", "titleBaseline": "middle",
            "titleX": 18, "titleY": 928
          }
        }
      }
    },
    {
      "data": {"name": "price"},
      "mark": {"type": "line", "color": "#ff0000", "strokeWidth": 2.6, "strokeJoin": "round"},
      "encoding": {
        "x": {
          "field": "d", "type": "temporal",
          "scale": {"domain": [{"year": 2013, "month": 4, "date": 28, "utc": true}, {"year": 2017, "month": 4, "date": 3, "utc": true}], "nice": false},
          "axis": {
            "orient": "bottom", "offset": -258, "title": null, "format": "%Y",
            "values": [{"year": 2014, "month": 1, "date": 1, "utc": true}, {"year": 2015, "month": 1, "date": 1, "utc": true}, {"year": 2016, "month": 1, "date": 1, "utc": true}, {"year": 2017, "month": 1, "date": 1, "utc": true}],
            "tickSize": -12, "labelPadding": 16, "labelFontSize": 18, "labelAlign": "center"
          }
        },
        "y": {
          "field": "p", "type": "quantitative",
          "scale": {"domain": [68, 1272], "range": [845, 288], "nice": false, "zero": false},
          "axis": {
            "orient": "left", "values": [200, 400, 600, 800, 1000, 1200], "format": ",.0f",
            "tickSize": 7, "labelPadding": 2,
            "title": "token price, $", "titleAngle": 0, "titleAlign": "left", "titleBaseline": "middle",
            "titleX": 18, "titleY": 325
          }
        }
      }
    },
    {
      "data": {"name": "events"},
      "mark": {"type": "rule", "color": "black", "strokeWidth": 3.5, "strokeDash": [15, 13], "strokeCap": "butt"},
      "encoding": {
        "x": {
          "field": "d", "type": "temporal",
          "scale": {"domain": [{"year": 2013, "month": 4, "date": 28, "utc": true}, {"year": 2017, "month": 4, "date": 3, "utc": true}], "nice": false},
          "axis": null
        },
        "y": {
          "field": "top", "type": "quantitative",
          "scale": {"domain": [68, 1272], "range": [845, 288], "nice": false, "zero": false},
          "axis": null
        },
        "y2": {"field": "bottom"}
      }
    },
    {
      "data": {"name": "notes"},
      "mark": {"type": "text", "align": "left", "baseline": "alphabetic", "font": "Liberation Sans, Arial, sans-serif", "fontStyle": "italic", "fontSize": 32, "lineHeight": 38, "color": "black"},
      "encoding": {
        "x": {
          "field": "d", "type": "temporal",
          "scale": {"domain": [{"year": 2013, "month": 4, "date": 28, "utc": true}, {"year": 2017, "month": 4, "date": 3, "utc": true}], "nice": false},
          "axis": null
        },
        "y": {
          "field": "p", "type": "quantitative",
          "scale": {"domain": [68, 1272], "range": [845, 288], "nice": false, "zero": false},
          "axis": null
        },
        "text": {"field": "t"}
      }
    }
  ],
  "resolve": {"scale": {"x": "independent", "y": "independent"}}
}
